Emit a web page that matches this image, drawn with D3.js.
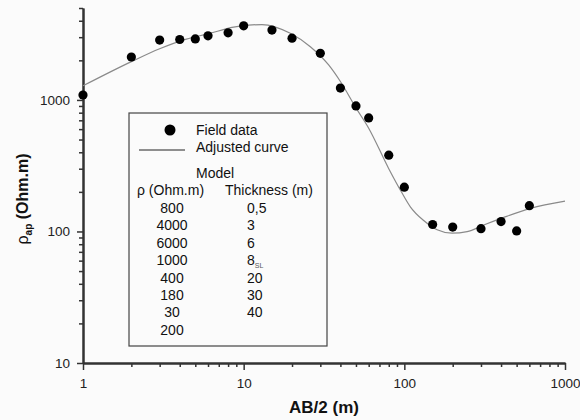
<!DOCTYPE html>
<html>
<head>
<meta charset="utf-8">
<script src="https://cdn.jsdelivr.net/npm/d3@7"></script>
<style>
    body { margin: 0; background: #fbfbfb; }
    svg { display: block; font-family: "Liberation Sans", Arial, sans-serif; }
</style>
</head>
<body>
<svg width="580" height="420"></svg>
<script>
// field measurements
var fieldAB = [1, 2, 3, 4, 5, 6, 8, 10, 15, 20, 30, 40, 50, 60, 80, 100, 150, 200, 300, 400, 500, 600];
var fieldRho = [1090, 2120, 2850, 2880, 2910, 3070, 3240, 3660, 3400, 2950, 2260, 1230, 900, 730, 380, 217, 113, 108, 105, 119, 101, 157];

// adjusted curve
var curveAB = [1, 2, 3, 4.4, 6, 8.65, 13, 19.5, 26, 33.8, 40, 50, 60, 80, 97, 109, 132, 160, 198, 246, 312, 416, 610, 1000];
var curveRho = [1280, 1955, 2450, 2900, 3180, 3575, 3740, 3210, 2540, 1845, 1380, 870, 610, 300, 195, 154, 121, 103, 97, 99.6, 112, 128, 150, 170];

// model table in the legend
var modelRho = ["800", "4000", "6000", "1000", "400", "180", "30", "200"];
var modelThickness = ["0,5", "3", "6", "8", "20", "30", "40"];
var thicknessSub = ["", "", "", "SL", "", "", ""];

// ticks
var xMajor = [1, 10, 100, 1000];
var xMinor = [2, 3, 4, 5, 6, 7, 8, 9, 20, 30, 40, 50, 60, 70, 80, 90, 200, 300, 400, 500, 600, 700, 800, 900];
var yMajor = [10, 100, 1000];
var yMinor = [20, 30, 40, 50, 60, 70, 80, 90, 200, 300, 400, 500, 600, 700, 800, 900, 2000, 3000, 4000, 5000];

var plotLeft = 83, plotRight = 565, plotTop = 8, plotBottom = 363;
var axisColor = "#333";

var svg = d3.select("svg");

var x = d3.scaleLog().domain([1, 1000]).range([plotLeft, plotRight]);
var y = d3.scaleLog().domain([10, 5000]).range([plotBottom, plotTop]);

function styleAxis(g) {
    g.select(".domain").attr("stroke", axisColor).attr("stroke-width", 2);
    g.selectAll(".tick line").attr("stroke", axisColor).attr("stroke-width", 1.5);
    g.selectAll(".tick text").attr("fill", "#222").style("font-size", "13.5px")
        .style("font-family", "'Liberation Sans', Arial, sans-serif");
}

// X axis
svg.append("g")
    .attr("transform", "translate(0," + plotBottom + ")")
    .call(d3.axisBottom(x).tickValues(xMinor).tickFormat("").tickSize(4).tickSizeOuter(0))
    .call(styleAxis);
svg.append("g")
    .attr("transform", "translate(0," + plotBottom + ")")
    .call(d3.axisBottom(x).tickValues(xMajor).tickFormat(d3.format("d")).tickSize(7).tickPadding(8).tickSizeOuter(0))
    .call(styleAxis);

// Y axis
svg.append("g")
    .attr("transform", "translate(" + plotLeft + ",0)")
    .call(d3.axisLeft(y).tickValues(yMinor).tickFormat("").tickSize(4).tickSizeOuter(0))
    .call(styleAxis);
svg.append("g")
    .attr("transform", "translate(" + plotLeft + ",0)")
    .call(d3.axisLeft(y).tickValues(yMajor).tickFormat(d3.format("d")).tickSize(6).tickPadding(7).tickSizeOuter(0))
    .call(styleAxis);

// axis titles
svg.append("text")
    .attr("x", 324)
    .attr("y", 413)
    .attr("text-anchor", "middle")
    .style("font-size", "17px")
    .style("font-weight", "bold")
    .attr("fill", "#111")
    .text("AB/2 (m)");

var yTitle = svg.append("text")
    .attr("transform", "translate(28, 199) rotate(-90)")
    .attr("text-anchor", "middle")
    .style("font-size", "16px")
    .style("font-weight", "bold")
    .attr("fill", "#111");
yTitle.append("tspan").style("font-weight", "normal").text("ρ");
yTitle.append("tspan").attr("dy", 4).style("font-size", "10px").text("ap");
yTitle.append("tspan").attr("dy", -4).text(" (Ohm.m)");

// Curve
var line = d3.line()
    .x(function(d) { return x(d[0]); })
    .y(function(d) { return y(d[1]); })
    .curve(d3.curveMonotoneX);

svg.append("path")
    .datum(d3.zip(curveAB, curveRho))
    .attr("d", line)
    .attr("fill", "none")
    .attr("stroke", "#8a8a8a")
    .attr("stroke-width", 1.2);

// Field data
svg.append("g")
    .selectAll("circle")
    .data(d3.zip(fieldAB, fieldRho))
    .enter()
        .append("circle")
        .attr("cx", function(d) { return x(d[0]); })
        .attr("cy", function(d) { return y(d[1]); })
        .attr("r", 4.6)
        .attr("fill", "#000");

// Legend
var lg = svg.append("g").attr("transform", "translate(129,113)");
lg.append("rect")
    .attr("width", 198)
    .attr("height", 233)
    .attr("fill", "none")
    .attr("stroke", "#444")
    .attr("stroke-width", 1.2);

lg.append("circle").attr("cx", 41).attr("cy", 17).attr("r", 5.5).attr("fill", "#000");
lg.append("line").attr("x1", 10).attr("x2", 56).attr("y1", 37).attr("y2", 37)
    .attr("stroke", "#222").attr("stroke-width", 1);

function legendText(tx, ty, txt, anchor) {
    return lg.append("text")
        .attr("x", tx)
        .attr("y", ty)
        .attr("text-anchor", anchor || "start")
        .attr("fill", "#111")
        .style("font-size", "14px")
        .text(txt);
}

legendText(67, 22, "Field data");
legendText(67, 39, "Adjusted curve");
legendText(67, 65, "Model");
legendText(8, 82, "ρ (Ohm.m)");
legendText(96, 82, "Thickness (m)");

var rowTop = 100, rowStep = 17.4;
modelRho.forEach(function(v, i) {
    legendText(43, rowTop + i * rowStep, v, "middle");
});
modelThickness.forEach(function(v, i) {
    var t = legendText(118, rowTop + i * rowStep, v);
    if (thicknessSub[i]) {
        t.append("tspan").attr("dy", 3).style("font-size", "7px").attr("fill", "#555").text(thicknessSub[i]);
    }
});
</script>
</body>
</html>
